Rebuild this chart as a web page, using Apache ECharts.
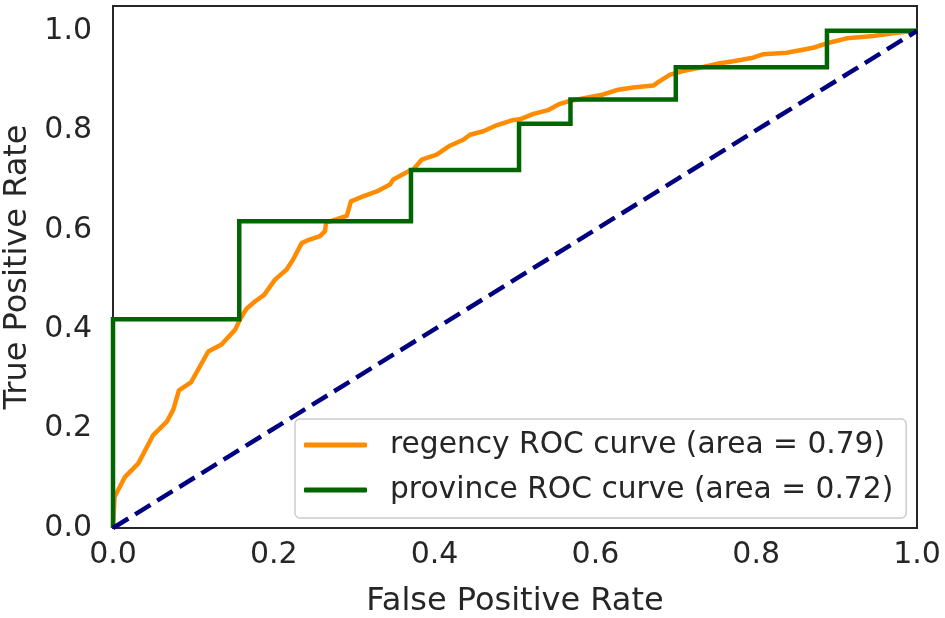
<!DOCTYPE html>
<html>
<head>
<meta charset="utf-8">
<script src="https://cdn.jsdelivr.net/npm/echarts@6/dist/echarts.min.js"></script>
<style>
html,body{margin:0;padding:0;background:#fff;}
#c{width:945px;height:618px;}
</style>
</head>
<body>
<div id="c"></div>
<script>
// Data
const regencyName = 'regency ROC curve (area = 0.79)';
const provinceName = 'province ROC curve (area = 0.72)';
const regencyFpr = [0,0.002,0.015,0.0315,0.050,0.067,0.075,0.082,0.097,0.1185,0.135,0.152,0.158,0.166,0.177,0.188,0.2015,0.216,0.224,0.2347,0.241,0.2575,0.2637,0.265,0.270,0.2907,0.296,0.311,0.328,0.3445,0.3486,0.3694,0.3735,0.384,0.4026,0.419,0.4357,0.444,0.4606,0.477,0.496,0.506,0.523,0.541,0.554,0.568,0.589,0.610,0.6265,0.647,0.672,0.680,0.693,0.709,0.730,0.755,0.7715,0.796,0.809,0.838,0.8545,0.871,0.888,0.9126,0.9456,0.9726,0.9975,1.0];
const regencyTpr = [0,0.063,0.103,0.130,0.187,0.214,0.238,0.277,0.293,0.355,0.369,0.399,0.420,0.441,0.456,0.469,0.4995,0.520,0.540,0.573,0.578,0.587,0.597,0.614,0.617,0.628,0.657,0.667,0.677,0.691,0.701,0.719,0.721,0.741,0.751,0.769,0.781,0.791,0.798,0.810,0.820,0.822,0.833,0.8405,0.852,0.859,0.8655,0.872,0.881,0.886,0.890,0.899,0.912,0.919,0.926,0.935,0.939,0.946,0.953,0.956,0.961,0.966,0.975,0.985,0.9895,0.9958,1.0,1.0];
const provinceFpr = [0,0,0.157,0.157,0.3706,0.3706,0.505,0.505,0.569,0.569,0.700,0.700,0.888,0.888,1.0];
const provinceTpr = [0,0.420,0.420,0.617,0.617,0.720,0.720,0.813,0.813,0.862,0.862,0.927,0.927,1.0,1.0];
const chanceFpr = [0,1];
const chanceTpr = [0,1];
const tickValues = [0,0.2,0.4,0.6,0.8,1.0];

const zip = (a,b) => a.map((v,i)=>[v,b[i]]);
const textColor = '#262626';
const font = 'DejaVu Sans';
const fmt = v => tickValues.some(t => Math.abs(t - v) < 1e-9) ? v.toFixed(1) : '';

const chart = echarts.init(document.getElementById('c'), null, {renderer:'canvas'});
chart.setOption({
  animation:false,
  backgroundColor:'#ffffff',
  grid:{left:113,right:28,top:6,bottom:90,containLabel:false,outerBoundsMode:'none',
    show:true,borderColor:'#262626',borderWidth:2,backgroundColor:'transparent'},
  xAxis:{type:'value',min:0,max:1,interval:0.2,
    name:'False Positive Rate',nameLocation:'middle',nameGap:58,
    nameTextStyle:{fontFamily:font,fontSize:32,color:textColor},
    axisLine:{show:true,onZero:false,lineStyle:{color:'#262626',width:2}},
    axisTick:{show:false},splitLine:{show:false},
    axisLabel:{margin:12,fontFamily:font,fontSize:30,color:textColor,formatter:fmt}},
  yAxis:{type:'value',min:0,max:1.05,interval:0.2,
    name:'True Positive Rate',nameLocation:'middle',nameGap:73,
    nameTextStyle:{fontFamily:font,fontSize:32,color:textColor},
    axisLine:{show:true,onZero:false,lineStyle:{color:'#262626',width:2}},
    axisTick:{show:false},splitLine:{show:false},
    axisLabel:{margin:21,fontFamily:font,fontSize:30,color:textColor,formatter:fmt,showMaxLabel:false}},
  legend:{orient:'vertical',left:295,top:419,
    data:[regencyName,provinceName],
    icon:'roundRect',itemWidth:63,itemHeight:5,itemGap:9,
    padding:[8,13,10,9],
    backgroundColor:'rgba(255,255,255,0.85)',borderColor:'#cccccc',borderWidth:1.5,borderRadius:5,
    textStyle:{fontFamily:font,fontSize:29.7,color:textColor,lineHeight:36,padding:[0,0,0,18]}},
  series:[
    {name:regencyName,type:'line',data:zip(regencyFpr,regencyTpr),showSymbol:false,symbol:'none',
      lineStyle:{color:'#ff8c00',width:4.5,join:'round'},itemStyle:{color:'#ff8c00'},z:2},
    {name:provinceName,type:'line',data:zip(provinceFpr,provinceTpr),showSymbol:false,symbol:'none',
      lineStyle:{color:'#006400',width:4.5,join:'miter'},itemStyle:{color:'#006400'},z:3},
    {name:'chance',type:'line',data:zip(chanceFpr,chanceTpr),showSymbol:false,symbol:'none',
      lineStyle:{color:'#000080',width:4.5,type:[18,8]},itemStyle:{color:'#000080'},z:4}
  ]
});
</script>
</body>
</html>
